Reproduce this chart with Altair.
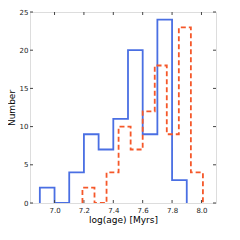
import altair as alt
import pandas as pd

# Histogram data (step outlines)
blue_edges = [6.9, 7.0, 7.1, 7.2, 7.3, 7.4, 7.5, 7.6, 7.7, 7.8, 7.9]
blue_counts = [2, 0, 4, 9, 7, 11, 20, 9, 24, 3]
red_edges = [7.19, 7.272, 7.354, 7.436, 7.518, 7.6, 7.682, 7.764, 7.846, 7.928, 8.01]
red_counts = [2, 0, 4, 10, 7, 12, 18, 9, 23, 4]
x_ticks = [7.0, 7.2, 7.4, 7.6, 7.8, 8.0]
y_ticks = [0, 5, 10, 15, 20, 25]

W, H = 186, 191


def step_frame(edges, counts, name):
    rows = [{"x": edges[0], "y": 0}]
    for e, c in zip(edges[:-1], counts):
        rows.append({"x": e, "y": c})
    rows.append({"x": edges[-1], "y": 0})
    df = pd.DataFrame(rows)
    df["o"] = range(len(df))
    df["s"] = name
    return df


blue = step_frame(blue_edges, blue_counts, "blue")
red = step_frame(red_edges, red_counts, "red")

xs = alt.Scale(domain=[6.833, 8.099], nice=False, zero=False)
ys = alt.Scale(domain=[0, 25], nice=False)

xax = alt.Axis(values=x_ticks, format=".1f", title="log(age) [Myrs]", grid=False,
               domain=False, ticks=False, tickSize=0, labelFontSize=7, labelPadding=3,
               labelOverlap=False, labelFlush=False,
               labelColor="#222", titleFontSize=9, titleFontWeight="normal",
               titlePadding=2, titleColor="#000", labelFont="DejaVu Sans", titleFont="DejaVu Sans")
yax = alt.Axis(values=y_ticks, title="Number", grid=False, domain=False, ticks=False,
               tickSize=0, labelFontSize=7, labelPadding=2, labelColor="#222",
               labelOverlap=False, labelFlush=False,
               titleFontSize=9, titleFontWeight="normal", titlePadding=3, titleColor="#000",
               labelFont="DejaVu Sans", titleFont="DejaVu Sans")

blue_line = alt.Chart(blue).mark_line(interpolate="step-after", color="#4a6fe3",
                                      strokeWidth=1.8, clip=True).encode(
    x=alt.X("x:Q", scale=xs, axis=xax),
    y=alt.Y("y:Q", scale=ys, axis=yax),
    order="o:Q",
)
red_line = alt.Chart(red).mark_line(interpolate="step-after", color="#f5582a",
                                    strokeWidth=1.8, strokeDash=[5, 3], clip=True).encode(
    x=alt.X("x:Q", scale=xs, axis=xax),
    y=alt.Y("y:Q", scale=ys, axis=yax),
    order="o:Q",
)

xt = pd.DataFrame({"t": x_ticks})
yt = pd.DataFrame({"t": y_ticks})
tick_col = "#444"
bt = alt.Chart(xt).mark_rule(color=tick_col, strokeWidth=1).encode(
    x=alt.X("t:Q", scale=xs, axis=xax), y=alt.value(H), y2=alt.value(H - 3))
tt = alt.Chart(xt).mark_rule(color=tick_col, strokeWidth=1).encode(
    x=alt.X("t:Q", scale=xs, axis=xax), y=alt.value(0), y2=alt.value(3))
lt = alt.Chart(yt).mark_rule(color=tick_col, strokeWidth=1).encode(
    y=alt.Y("t:Q", scale=ys, axis=yax), x=alt.value(0), x2=alt.value(3))
rt = alt.Chart(yt).mark_rule(color=tick_col, strokeWidth=1).encode(
    y=alt.Y("t:Q", scale=ys, axis=yax), x=alt.value(W), x2=alt.value(W - 3))

chart = alt.layer(blue_line, bt, tt, lt, rt, red_line).properties(
    width=W, height=H,
    autosize=alt.AutoSizeParams(type="none"),
    padding={"left": 22, "top": 4, "right": 10, "bottom": 25},
).configure_view(stroke="#b5b5b5", strokeWidth=2.2).configure_axis(
    labelOverlap=False).configure(background="white")

chart.save("out.html", embed_options={"renderer": "svg", "actions": False})
